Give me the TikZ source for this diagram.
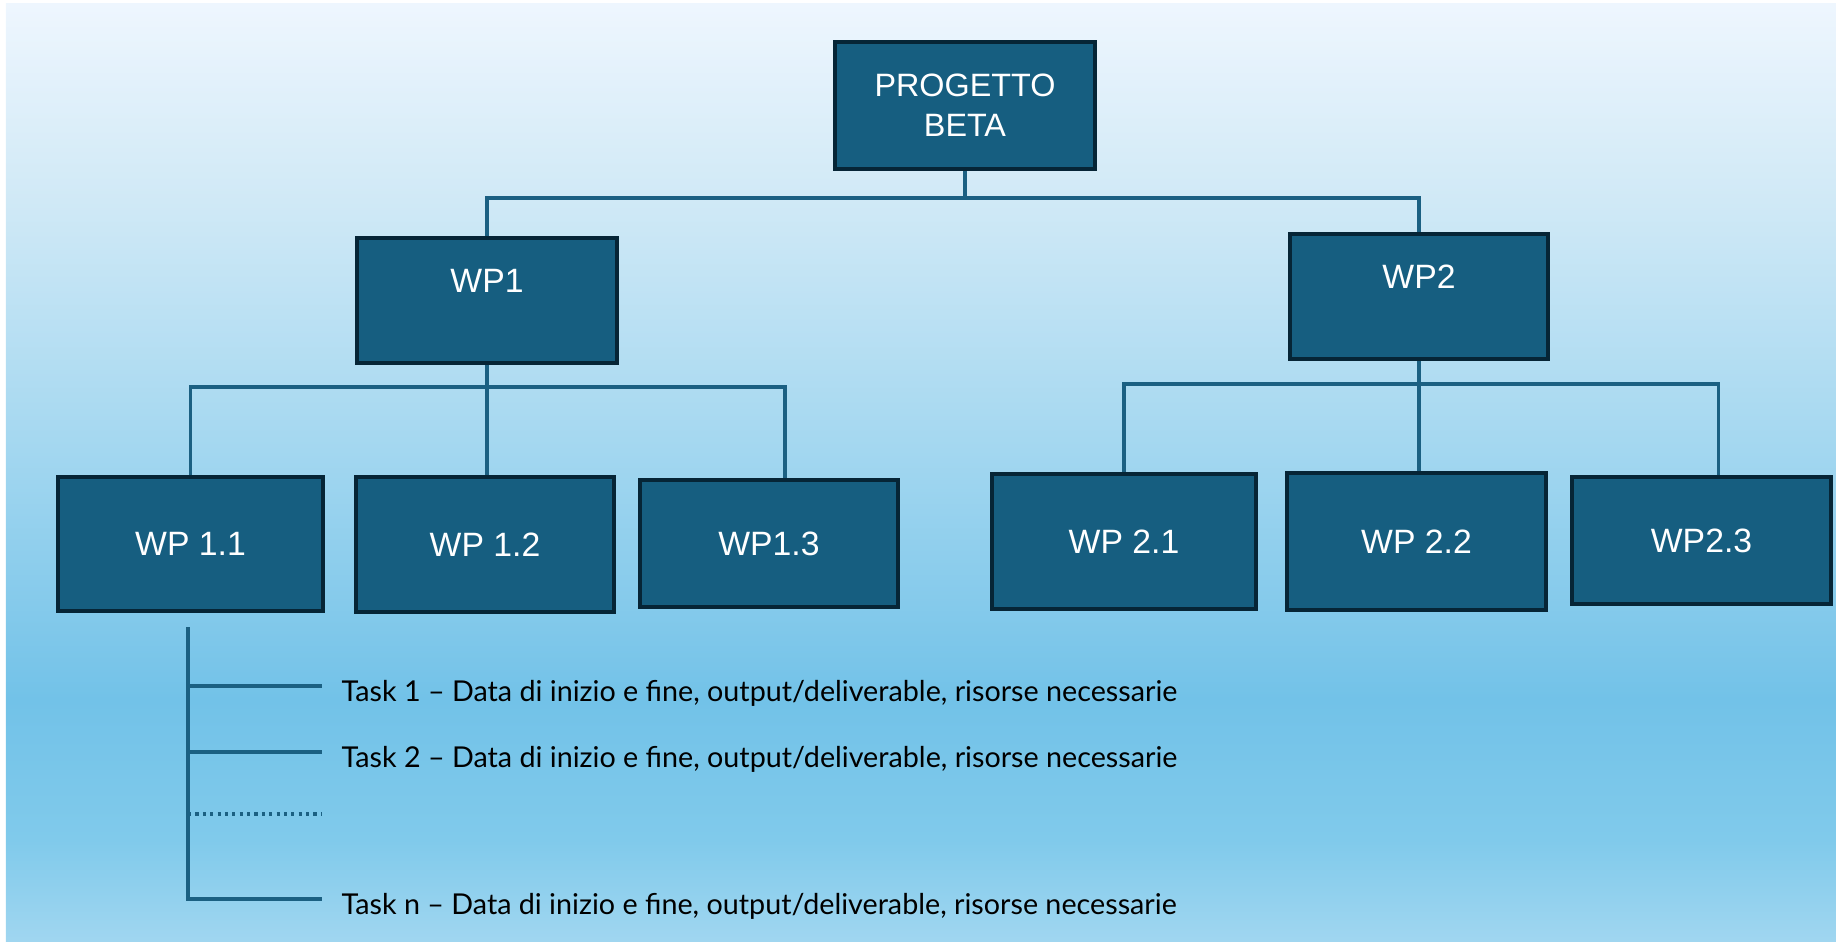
\documentclass[tikz,border=0pt]{standalone}
\usepackage{fontspec}
\setmainfont{Liberation Sans}
\newfontfamily\taskfont{Lato}

\definecolor{riempimento}{RGB}{22,94,128}
\definecolor{bordo}{RGB}{6,37,54}
\definecolor{linee}{RGB}{27,96,130}
\definecolor{cieloA}{RGB}{160,214,240}
\definecolor{cieloB}{RGB}{128,202,235}
\definecolor{cieloC}{RGB}{114,194,232}
\definecolor{cieloD}{RGB}{163,215,240}
\definecolor{cieloE}{RGB}{208,233,246}
\definecolor{cieloF}{RGB}{238,246,254}
\pgfdeclareverticalshading{cielo}{100bp}{color(0bp)=(cieloA); color(25bp)=(cieloA); color(30.4bp)=(cieloB); color(37.9bp)=(cieloC); color(51.2bp)=(cieloD); color(64.5bp)=(cieloE); color(75bp)=(cieloF); color(100bp)=(cieloF)}

\tikzset{
  wp/.style={rectangle, draw=bordo, line width=1.3pt, fill=riempimento, text=white, minimum width=2.6cm, minimum height=1.3cm, align=center, font=\fontsize{9.6}{11.4}\selectfont},
  linea/.style={draw=linee, line width=1.1pt},
  task/.style={anchor=west, inner xsep=0.19cm, inner ysep=0pt, text height=0.37cm, text depth=0.06cm, text=black, font=\taskfont\fontsize{8.17}{10}\selectfont}
}

\begin{document}
\begin{tikzpicture}
    % --- Sfondo sfumato ---
    \useasboundingbox (0,0) rectangle (18.36,-9.41);
    \shade[shading=cielo] (0.06,-0.04) rectangle (18.36,-9.41);

    % --- Progetto ---
    \node[wp, minimum height=1.27cm, font=\fontsize{9.2}{11.4}\selectfont] (progetto) at (9.65,-1.055) {PROGETTO\\BETA};

    % --- Work package di primo livello ---
    % Riga vuota sotto il titolo, come nell'originale
    \node[wp, minimum height=1.25cm] (wp1) at (4.87,-3.005) {WP1\\~};
    \node[wp, minimum width=2.58cm, minimum height=1.25cm] (wp2) at (14.19,-2.965) {WP2\\~};

    % --- Work package di secondo livello ---
    \node[wp, minimum width=2.65cm, minimum height=1.34cm] (wp11) at (1.905,-5.44) {WP 1.1};
    \node[wp, minimum width=2.58cm, minimum height=1.35cm] (wp12) at (4.85,-5.445) {WP 1.2};
    \node[wp, minimum width=2.58cm, minimum height=1.27cm] (wp13) at (7.69,-5.435) {WP1.3};
    \node[wp, minimum width=2.64cm, minimum height=1.35cm] (wp21) at (11.24,-5.415) {WP 2.1};
    \node[wp, minimum width=2.59cm, minimum height=1.37cm] (wp22) at (14.165,-5.415) {WP 2.2};
    \node[wp, minimum width=2.59cm, minimum height=1.27cm] (wp23) at (17.015,-5.405) {WP2.3};

    % --- Task del WP 1.1 ---
    \node[task] (task1) at (3.22,-6.86) {Task 1 – Data di inizio e fine, output/deliverable, risorse necessarie};
    \node[task] (task2) at (3.22,-7.52) {Task 2 – Data di inizio e fine, output/deliverable, risorse necessarie};
    \node[task] (taskn) at (3.22,-8.99) {Task n – Data di inizio e fine, output/deliverable, risorse necessarie};

    % Punti di snodo dei collegamenti
    \coordinate (snodo0) at (9.65,-1.98);
    \coordinate (snodo1) at (4.87,-3.87);
    \coordinate (snodo2) at (14.19,-3.84);
    \coordinate (tronco) at (1.88,-6.27);
    \coordinate (puntini) at (3.22,-8.14);

    % ================= COLLEGAMENTI =================

    % Progetto -> WP1, WP2
    \draw[linea] (progetto.south) -- (snodo0);
    \draw[linea] (wp1.north) |- (snodo0) -| (wp2.north);

    % WP1 -> WP 1.1, 1.2, 1.3
    \draw[linea] (wp1.south) -- (snodo1);
    \draw[linea] (wp11.north) |- (snodo1) -| ([xshift=0.16cm]wp13.north);
    \draw[linea] (snodo1) -- (snodo1 |- wp12.north);

    % WP2 -> WP 2.1, 2.2, 2.3
    \draw[linea] (wp2.south) -- (snodo2);
    \draw[linea] (wp21.north) |- (snodo2) -| ([xshift=0.17cm]wp23.north);
    \draw[linea] (snodo2) -- (snodo2 |- wp22.north);

    % Elenco dei task
    \draw[linea] (tronco) |- (taskn.west);
    \draw[linea] (tronco |- task1.west) -- (task1.west);
    \draw[linea] (tronco |- task2.west) -- (task2.west);
    \draw[linea, dash pattern=on 0.9pt off 1.2pt] (tronco |- puntini) -- (puntini);
\end{tikzpicture}
\end{document}
